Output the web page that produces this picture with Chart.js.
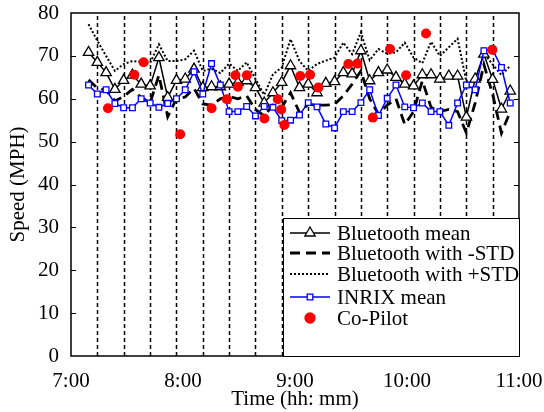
<!DOCTYPE html>
<html>
<head>
<meta charset="utf-8">
<script src="https://cdn.jsdelivr.net/npm/chart.js@4.4.0/dist/chart.umd.min.js"></script>
<style>
  html, body { margin: 0; padding: 0; background: #fff; }
  #wrap { width: 544px; height: 412px; }
</style>
</head>
<body>
<div id="wrap"><canvas id="speedChart" width="544" height="412"></canvas></div>
<script>
// sample times, minutes after 7:00
const sampleTimes = [9.4, 14.1, 18.8, 23.5, 28.2, 32.9, 37.6, 42.4, 47.1, 51.8, 56.5, 61.2, 65.9, 70.6, 75.3, 80.0,
  84.7, 89.4, 94.1, 98.8, 103.5, 108.2, 112.9, 117.6, 122.4, 127.1, 131.8, 136.5, 141.2, 145.9, 150.6, 155.3,
  160.0, 164.7, 169.4, 174.1, 178.8, 183.5, 188.2, 192.9, 197.6, 202.4, 207.1, 211.8, 216.5, 221.2, 225.9, 230.6, 235.3];

const bluetoothMean = [70.8, 68.5, 66.1, 62.2, 64.3, 65.5, 63.4, 63.0, 69.6, 60.3, 64.3, 64.6, 66.9, 62.6, 62.8, 62.8,
  63.4, 63.8, 64.2, 62.6, 59.0, 61.4, 63.8, 67.7, 62.6, 63.4, 61.4, 63.6, 64.0, 66.1, 65.8, 71.2,
  64.2, 66.1, 66.7, 65.0, 63.4, 63.0, 65.6, 65.6, 64.6, 65.3, 65.3, 55.7, 64.6, 70.4, 64.5, 57.6, 61.8];

const bluetoothMinusStd = [64.4, 62.5, 62.0, 59.5, 60.5, 62.2, 60.3, 59.1, 65.5, 55.8, 60.0, 60.4, 62.4, 58.8, 58.5, 60.0,
  60.5, 60.0, 60.7, 57.5, 56.0, 58.5, 58.0, 61.4, 56.8, 58.7, 58.5, 58.5, 58.7, 60.7, 63.4, 66.5,
  60.0, 56.4, 58.5, 60.0, 54.0, 57.0, 64.2, 58.0, 57.0, 57.5, 57.0, 52.0, 59.0, 68.0, 61.0, 52.0, 57.0];

const bluetoothPlusStd = [77.4, 73.5, 70.0, 66.5, 68.1, 68.8, 68.6, 68.4, 72.7, 68.8, 68.8, 69.2, 71.2, 66.5, 67.0, 66.0,
  68.2, 66.5, 68.5, 64.6, 60.9, 65.7, 67.3, 73.9, 68.8, 66.5, 68.1, 68.9, 69.6, 73.1, 70.4, 75.5,
  69.0, 71.6, 70.5, 70.8, 73.1, 69.6, 68.3, 73.3, 70.0, 72.0, 74.0, 64.0, 64.0, 70.6, 68.0, 65.5, 67.7];

const inrixMean = [63.2, 61.1, 62.1, 58.9, 57.9, 57.9, 60.0, 59.0, 58.0, 58.9, 60.0, 62.1, 66.3, 61.1, 68.2, 63.2,
  57.0, 57.0, 58.2, 56.0, 58.2, 58.0, 54.9, 55.0, 56.2, 59.1, 58.1, 54.1, 53.2, 57.0, 57.0, 59.1,
  62.1, 56.1, 60.1, 63.2, 58.1, 57.9, 59.0, 57.0, 57.0, 53.8, 59.0, 63.2, 62.1, 71.2, 71.4, 67.3, 59.0];

// co-pilot probe readings (irregular times)
const copilotTimes = [19.8, 33.9, 38.9, 58.5, 75.3, 83.5, 88.1, 89.4, 94.2, 103.6, 110.8, 112.6, 114.3, 122.8,
  128.1, 132.5, 148.6, 153.4, 161.7, 170.9, 179.5, 190.2, 225.7];
const copilotSpeed = [57.8, 65.6, 68.5, 51.7, 57.8, 59.9, 65.5, 62.8, 65.5, 55.4, 59.9, 57.5, 53.9, 65.3,
  65.6, 62.6, 68.1, 68.2, 55.6, 71.6, 65.5, 75.2, 71.4];

// dashed run boundaries
const runBoundaries = [14.1, 28.2, 42.4, 56.5, 70.6, 84.7, 98.8, 112.9, 127.1, 141.2, 155.3, 169.4, 183.5, 197.6, 211.8, 225.9];

const tickLabels = ['7:00', '8:00', '9:00', '10:00', '11:00'];

const FONT = "'Liberation Serif', 'Times New Roman', serif";
Chart.defaults.font.family = FONT;
Chart.defaults.font.size = 21;
Chart.defaults.color = '#000';

function pts(xs, ys) {
  return xs.map((x, i) => ({ x: x, y: ys[i] }));
}

// draws a marker the same way for the legend
function marker(ctx, style, x, y, r) {
  ctx.beginPath();
  if (style === 'triangle') {
    ctx.moveTo(x, y - r);
    ctx.lineTo(x + 0.866 * r, y + 0.5 * r);
    ctx.lineTo(x - 0.866 * r, y + 0.5 * r);
    ctx.closePath();
  } else if (style === 'rect') {
    const s = Math.SQRT1_2 * r;
    ctx.rect(x - s, y - s, 2 * s, 2 * s);
  } else {
    ctx.arc(x, y, r, 0, Math.PI * 2);
  }
  ctx.fill();
  ctx.stroke();
}

const decorations = {
  id: 'decorations',
  beforeDatasetsDraw(chart) {
    const { ctx, chartArea: a, scales: { x } } = chart;
    ctx.save();
    ctx.strokeStyle = '#000';
    ctx.lineWidth = 1.5;
    ctx.setLineDash([4, 3]);
    runBoundaries.forEach(t => {
      const px = Math.round(x.getPixelForValue(t)) + 0.5;
      ctx.beginPath();
      ctx.moveTo(px, a.bottom);
      ctx.lineTo(px, a.top);
      ctx.stroke();
    });
    ctx.restore();
  },
  afterDraw(chart) {
    const { ctx, chartArea: a, scales: { y } } = chart;
    ctx.save();
    // frame + inward ticks
    ctx.strokeStyle = '#000';
    ctx.lineWidth = 1.5;
    ctx.strokeRect(a.left, a.top, a.right - a.left, a.bottom - a.top);
    ctx.lineWidth = 1;
    for (let v = 10; v < 80; v += 10) {
      const py = Math.round(y.getPixelForValue(v)) + 0.5;
      ctx.beginPath();
      ctx.moveTo(a.left, py); ctx.lineTo(a.left + 5, py);
      ctx.moveTo(a.right - 5, py); ctx.lineTo(a.right, py);
      ctx.stroke();
    }

    // legend box in lower right corner
    const boxLeft = a.right - 236;
    const boxTop = a.bottom - 138;
    ctx.fillStyle = '#fff';
    ctx.fillRect(boxLeft, boxTop, a.right - boxLeft, a.bottom - boxTop);
    ctx.lineWidth = 1;
    ctx.strokeRect(boxLeft + 0.5, boxTop + 0.5, a.right - boxLeft, a.bottom - boxTop);

    const rows = [15, 35, 56, 79, 100];
    ctx.font = '21px ' + FONT;
    ctx.textBaseline = 'middle';
    chart.data.datasets.forEach((ds, i) => {
      const ry = boxTop + rows[i];
      const x0 = boxLeft + 7, x1 = boxLeft + 47;
      if (ds.showLine !== false) {
        ctx.setLineDash(ds.borderDash || []);
        ctx.strokeStyle = ds.borderColor;
        ctx.lineWidth = ds.borderWidth;
        ctx.beginPath();
        ctx.moveTo(x0, ry); ctx.lineTo(x1, ry);
        ctx.stroke();
      }
      ctx.setLineDash([]);
      if (ds.pointRadius > 0) {
        ctx.fillStyle = ds.pointBackgroundColor;
        ctx.strokeStyle = ds.pointBorderColor;
        ctx.lineWidth = ds.pointBorderWidth;
        marker(ctx, ds.pointStyle, (x0 + x1) / 2, ry, ds.pointRadius);
      }
      ctx.fillStyle = '#000';
      ctx.fillText(ds.label, boxLeft + 54, ry + 1);
    });
    ctx.restore();
  }
};

const ctx = document.getElementById('speedChart').getContext('2d');
new Chart(ctx, {
  type: 'line',
  data: {
    datasets: [
      {
        label: 'Bluetooth mean',
        data: pts(sampleTimes, bluetoothMean),
        borderColor: '#000', borderWidth: 1.5,
        pointStyle: 'triangle', pointRadius: 6,
        pointBackgroundColor: '#fff', pointBorderColor: '#000', pointBorderWidth: 1.3,
        order: 2
      },
      {
        label: 'Bluetooth with -STD',
        data: pts(sampleTimes, bluetoothMinusStd),
        borderColor: '#000', borderWidth: 2.8, borderDash: [10, 6],
        pointRadius: 0,
        order: 3
      },
      {
        label: 'Bluetooth with +STD',
        data: pts(sampleTimes, bluetoothPlusStd),
        borderColor: '#000', borderWidth: 2, borderDash: [2, 2],
        pointRadius: 0,
        order: 4
      },
      {
        label: 'INRIX mean',
        data: pts(sampleTimes, inrixMean),
        borderColor: '#0000ff', borderWidth: 1.5,
        pointStyle: 'rect', pointRadius: 4,
        pointBackgroundColor: '#fff', pointBorderColor: '#0000ff', pointBorderWidth: 1.3,
        order: 1
      },
      {
        label: 'Co-Pilot',
        data: pts(copilotTimes, copilotSpeed),
        showLine: false,
        borderColor: '#ff0000',
        pointStyle: 'circle', pointRadius: 5,
        pointBackgroundColor: '#ff0000', pointBorderColor: '#ff0000', pointBorderWidth: 0,
        order: 0
      }
    ]
  },
  options: {
    responsive: false,
    animation: false,
    layout: { padding: { left: 0, right: 25, top: 13, bottom: 0 } },
    elements: { line: { tension: 0 } },
    plugins: {
      legend: { display: false },
      tooltip: { enabled: false }
    },
    scales: {
      x: {
        type: 'linear',
        min: 0, max: 240,
        grid: { display: false, drawTicks: false },
        border: { display: false },
        ticks: {
          stepSize: 60, padding: 13, maxRotation: 0, autoSkip: false,
          callback: v => tickLabels[v / 60]
        },
        title: { display: true, text: 'Time (hh: mm)', padding: { top: 0, bottom: 0 } },
        afterFit: s => { s.height = 56; s.paddingLeft = 0; s.paddingRight = 0; }
      },
      y: {
        min: 0, max: 80,
        grid: { display: false, drawTicks: false },
        border: { display: false },
        ticks: { stepSize: 10, padding: 12 },
        title: { display: true, text: 'Speed (MPH)', padding: { top: 6, bottom: 0 } },
        afterFit: s => { s.width = 71; s.paddingTop = 0; s.paddingBottom = 0; }
      }
    }
  },
  plugins: [decorations]
});
</script>
</body>
</html>
